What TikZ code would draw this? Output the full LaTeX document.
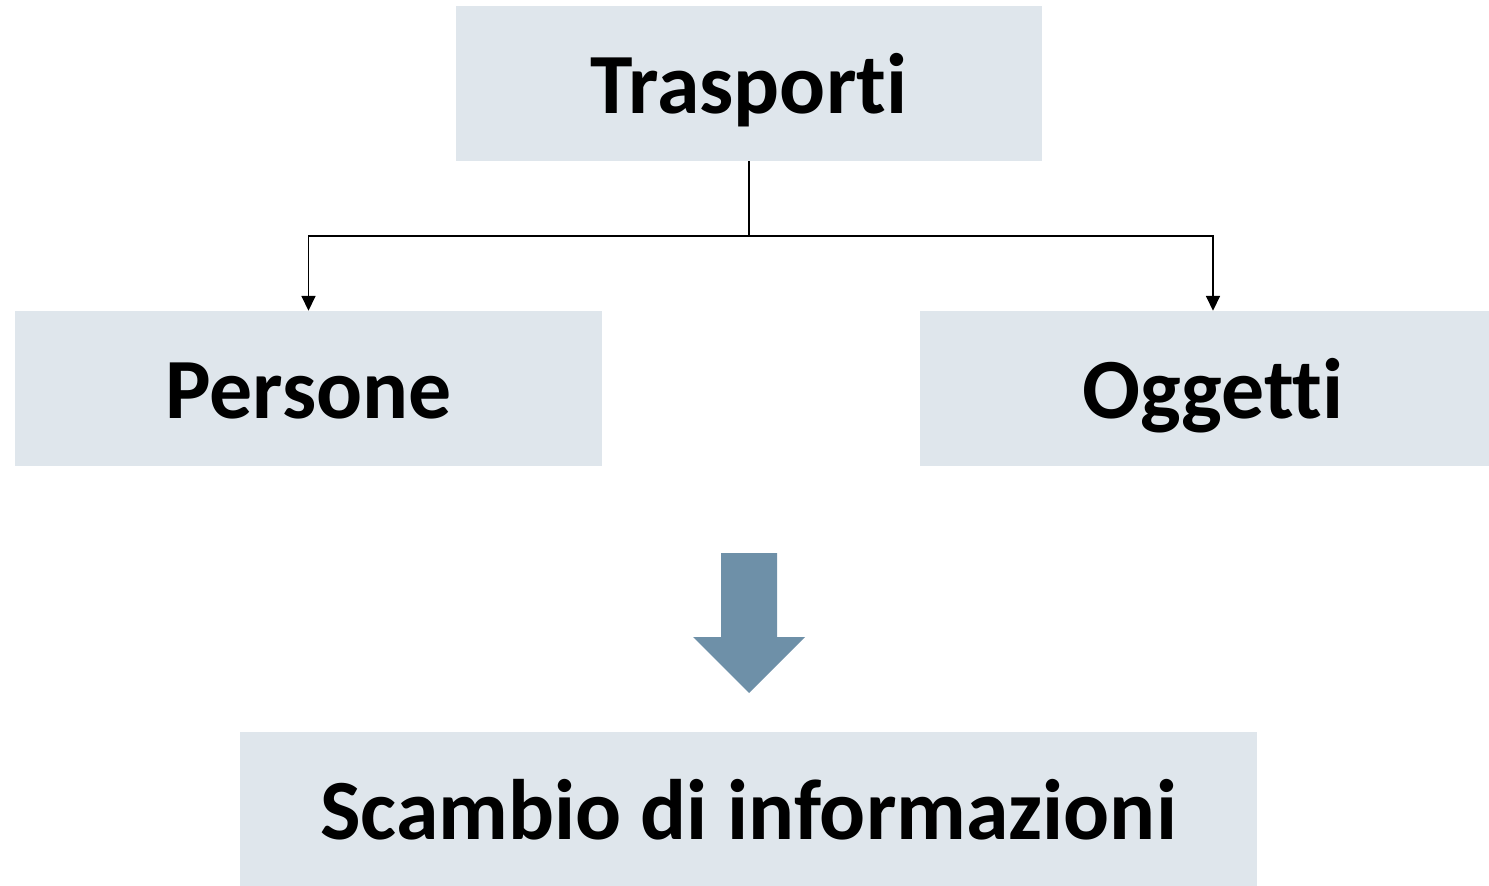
\documentclass[tikz,border=0pt]{standalone}
\usepackage{fontspec}
\setmainfont{Carlito}[Ligatures=NoCommon]
\usetikzlibrary{arrows.meta,positioning}

\begin{document}
\begin{tikzpicture}[
        x=0.025cm, y=-0.025cm, % one unit is one pixel of the layout
        line join=miter,
        box/.style={fill=myboxfill, minimum width=14.65cm, minimum height=3.875cm,
            inner sep=0pt, text height=2.675cm, text depth=1.2cm,
            font=\fontsize{61}{70}\selectfont\bfseries},
        link/.style={draw=black, line width=0.9pt, -{Triangle[width=10pt,length=10.5pt]}}
        ]

        % 1. Define colors to match the image
        \definecolor{myboxfill}{HTML}{DFE6EC}
        \definecolor{myarrow}{HTML}{6E90A8}

        % 2. Page frame
        \useasboundingbox (0,0) rectangle (1489,886);
        \clip (0,0) rectangle (1489,886);

        % 3. The boxes
        \node[box] (trasporti) at (749,83.5) {Trasporti};
        \node[box, minimum width=14.675cm] (persone) at (308.5,388.5) {Persone};
        \node[box] (oggetti) at (1213,388.5) {Oggetti};
        \node[box, minimum width=25.425cm] (scambio) at (748.5,809.5) {Scambio di informazioni};

        % 4. The branching connector
        \coordinate (split) at (749,236);
        \draw[line width=0.9pt] (trasporti.south) -- (split);
        \draw[link] (split) -| (persone.north);
        \draw[link] (split) -| (oggetti.north);

        % 5. The big arrow towards the result
        \fill[myarrow] (721,553) -- (777,553) -- (777,637) -- (805,637)
            -- (749,693) -- (693,637) -- (721,637) -- cycle;
    \end{tikzpicture}
\end{document}
